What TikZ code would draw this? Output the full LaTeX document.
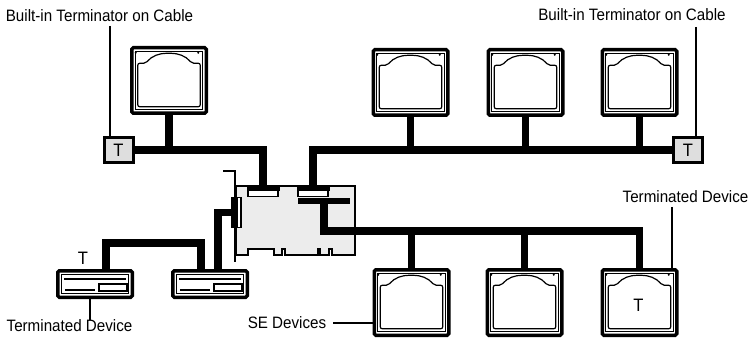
\documentclass[tikz,border=0pt]{standalone}
\usepackage{fontspec}
\setmainfont[FakeStretch=0.92]{Liberation Sans}
\usepackage{xcolor}
\definecolor{cardgray}{HTML}{ECECEC}
\definecolor{termgray}{HTML}{DEDEDE}
\tikzset{
  cable/.style={line width=7.5pt},
  leader/.style={line width=1.6pt},
  lbl/.style={inner sep=0pt,font=\fontsize{16.5}{16.5}\selectfont},
  tmark/.style={inner sep=0pt,font=\fontsize{18}{18}\selectfont},
  monitor/.style={draw,line width=3.5pt,fill=white,rounded corners=1.5pt,minimum width=74.5pt,minimum height=65.5pt,inner sep=0pt,outer sep=0pt},
  drive/.style={draw,line width=3.5pt,fill=white,rounded corners=1.5pt,minimum width=74.5pt,minimum height=26.5pt,inner sep=0pt,outer sep=0pt},
  terminator/.style={draw,line width=3pt,fill=termgray,minimum width=29pt,minimum height=25pt,inner sep=0pt,outer sep=0pt,font=\fontsize{18}{18}\selectfont},
  slot/.style={draw,line width=1.2pt,fill=white,inner sep=0pt,outer sep=0pt},
  blackbar/.style={fill=black,inner sep=0pt,outer sep=0pt}
}
\newcommand{\monitorface}[1]{
  \draw[line width=1pt] ([xshift=3.7pt,yshift=3.7pt]#1.south west) rectangle ([xshift=-3.7pt,yshift=-3.7pt]#1.north east);
  \begin{scope}[shift={(#1.north west)}]
    \fill (4,5) circle (1.2pt) (66.5,5) circle (1.2pt);
    \draw[line width=1.2pt,rounded corners=2pt] (6,59) -- (6,15.5) -- (14,15.5)
      .. controls (20,8) and (28,5.5) .. (37,5.5) .. controls (46,5.5) and (54,8) .. (60,15.5)
      -- (68.5,15.5) -- (68.5,59) -- cycle;
  \end{scope}
}
\newcommand{\driveface}[1]{
  \draw[line width=1pt] ([xshift=3.7pt,yshift=3.7pt]#1.south west) rectangle ([xshift=-3.7pt,yshift=-3.7pt]#1.north east);
  \begin{scope}[shift={(#1.north west)}]
    \draw[line width=1.8pt] (6.5,8) -- (68.5,8) (7,19.5) -- (37.5,19.5);
    \draw[line width=1.8pt] (41.5,13.5) rectangle (69,20.5);
  \end{scope}
}
\begin{document}
\begin{tikzpicture}[x=1pt,y=-1pt]
\useasboundingbox (0,0) rectangle (755,339);
\fill[white] (0,0) rectangle (755,339);

\draw[fill=cardgray,line width=1.2pt] (236,186) -- (355,186) -- (355,255) -- (332,255) -- (332,249) -- (329,249) -- (329,255) -- (320,255) -- (320,249) -- (318,249) -- (318,255) -- (285,255) -- (285,249) -- (282,249) -- (282,255) -- (274,255) -- (274,249) -- (248,249) -- (248,255) -- (236,255) -- cycle;
\draw[line width=2.2pt] (223,171) -- (235,171) -- (235,262);

\node[slot,minimum width=30pt,minimum height=6pt] (slotAbox) at (263,193.5) {};
\node[slot,minimum width=30pt,minimum height=6pt] (slotBbox) at (313,193.5) {};
\node[blackbar,minimum width=33pt,minimum height=4.5pt] (slotA) at (263,189) {};
\node[blackbar,minimum width=33pt,minimum height=4.5pt] (slotB) at (313,189) {};
\node[blackbar,minimum width=52pt,minimum height=6pt] (slotC) at (324,201) {};
\node[slot,minimum width=4pt,minimum height=30pt] (slotDbox) at (239,212.5) {};
\node[blackbar,minimum width=7pt,minimum height=31pt] (slotD) at (234.5,212.5) {};

\node[monitor] (mon1) at (169,80.5) {};
\node[monitor] (mon2) at (410.5,82.5) {};
\node[monitor] (mon3) at (525.5,82.5) {};
\node[monitor] (mon4) at (639.5,82.5) {};
\node[monitor] (mon5) at (411.5,302.5) {};
\node[monitor] (mon6) at (524.5,302.5) {};
\node[monitor] (mon7) at (639.5,302.5) {};
\foreach \mon in {mon1,mon2,mon3,mon4,mon5,mon6,mon7} {\monitorface{\mon}}

\node[drive] (drive1) at (95,284) {};
\node[drive] (drive2) at (210,284) {};
\foreach \drv in {drive1,drive2} {\driveface{\drv}}

\node[terminator] (termL) at (118.5,150) {T};
\node[terminator] (termR) at (688,150) {T};
\node[tmark] (tdrive) at (83,258) {T};
\node[tmark] (tmon) at (638.5,305) {T};

\coordinate (busC) at (480,231);
\coordinate (busD) at (150,243);
\draw[cable] (termL.east) -| (slotA.north);
\draw[cable] (mon1.south) -- (mon1.south |- termL.east);
\draw[cable] (termR.west) -| (slotB.north);
\foreach \mon in {mon2,mon3,mon4} {\draw[cable] (\mon.south) -- (\mon.south |- termR.west);}
\draw[cable] (slotC.south) |- (busC -| mon7.north) -- (mon7.north);
\foreach \mon in {mon5,mon6} {\draw[cable] (\mon.north) -- (\mon.north |- busC);}
\draw[cable] (slotD.west) -| ([xshift=8pt]drive2.north);
\draw[cable] ([xshift=11pt]drive1.north) |- (busD) -| ([xshift=-9pt]drive2.north);

\node[lbl] (lblTL) at (99.5,16) {Built-in Terminator on Cable};
\node[lbl] (lblTR) at (632,15) {Built-in Terminator on Cable};
\node[lbl] (lblDL) at (69.5,326) {Terminated Device};
\node[lbl] (lblDR) at (685.5,197) {Terminated Device};
\node[lbl] (lblSE) at (287,323) {SE Devices};

\coordinate (tipTL) at (110,26);
\coordinate (tipTR) at (696,27);
\coordinate (tipDL) at (90,320);
\coordinate (tipDR) at (672,207);
\draw[leader] (tipTL) -- (tipTL |- termL.north);
\draw[leader] (tipTR) -- (tipTR |- termR.north);
\draw[leader] (tipDL) -- (tipDL |- drive1.south);
\draw[leader] (tipDR) -- (tipDR |- mon7.north);
\draw[leader] (lblSE.east) ++(7,0) -- (lblSE.east -| mon5.west);
\end{tikzpicture}
\end{document}
